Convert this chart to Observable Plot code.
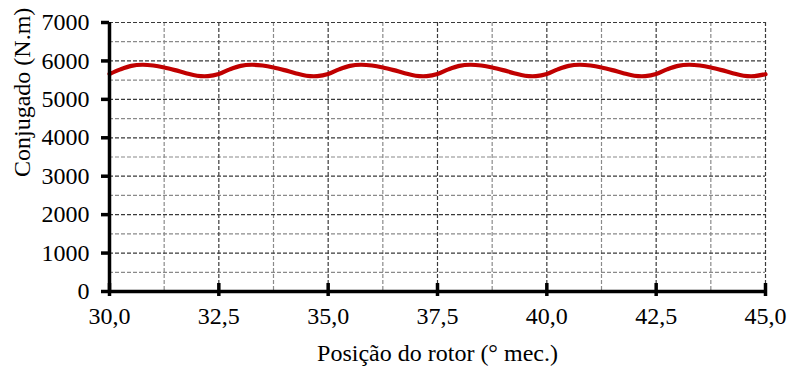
<!DOCTYPE html>
<html>
<head>
<meta charset="utf-8">
<script src="https://cdn.jsdelivr.net/npm/d3@7"></script>
<script src="https://cdn.jsdelivr.net/npm/@observablehq/plot@0.6"></script>
<style>
  html, body { margin: 0; padding: 0; background: #fff; font-family: "Liberation Serif", serif; }
  #chart svg { display: block; }
</style>
</head>
<body>
<div id="chart"></div>
<script>
// Rotor position (degrees mechanical), step 0.25
const positions = d3.range(0, 61).map(i => 30 + i * 0.25);
// Torque (N.m)
const torque = [
  5660, 5780, 5870, 5900, 5880, 5830, 5760, 5680, 5615, 5605,
  5660, 5780, 5870, 5900, 5880, 5830, 5760, 5680, 5615, 5605,
  5660, 5780, 5870, 5900, 5880, 5830, 5760, 5680, 5615, 5605,
  5660, 5780, 5870, 5900, 5880, 5830, 5760, 5680, 5615, 5605,
  5660, 5780, 5870, 5900, 5880, 5830, 5760, 5680, 5615, 5605,
  5660, 5780, 5870, 5900, 5880, 5830, 5760, 5680, 5615, 5605,
  5655
];
const xTicks = [30, 32.5, 35, 37.5, 40, 42.5, 45];
const xTickLabels = ["30,0", "32,5", "35,0", "37,5", "40,0", "42,5", "45,0"];
const xMinor = [31.25, 33.75, 36.25, 38.75, 41.25, 43.75];
const yTicks = [0, 1000, 2000, 3000, 4000, 5000, 6000, 7000];
const yTickLabels = ["0", "1000", "2000", "3000", "4000", "5000", "6000", "7000"];
const yMinor = [500, 1500, 2500, 3500, 4500, 5500, 6500];
const xLabel = "Posição do rotor (° mec.)";
const yLabel = "Conjugado (N.m)";

const data = positions.map((p, i) => ({x: p, y: torque[i]}));

const font = "Liberation Serif";
const fs = 24;

const chart = Plot.plot({
  width: 789,
  height: 369,
  marginLeft: 109,
  marginRight: 24,
  marginTop: 22,
  marginBottom: 78,
  style: {fontFamily: font, fontSize: fs + "px", color: "#000", background: "#fff"},
  x: {domain: [30, 45]},
  y: {domain: [0, 7000]},
  marks: [
    // minor grid
    Plot.ruleY(yMinor, {stroke: "#8a8a8a", strokeWidth: 1.2, strokeDasharray: "4,2"}),
    Plot.ruleX(xMinor, {stroke: "#8a8a8a", strokeWidth: 1.2, strokeDasharray: "4,2"}),
    // major grid
    Plot.ruleY(yTicks.filter(d => d > 0), {stroke: "#3a3a3a", strokeWidth: 1.2, strokeDasharray: "4,2"}),
    Plot.ruleX(xTicks.filter(d => d > 30), {stroke: "#3a3a3a", strokeWidth: 1.2, strokeDasharray: "4,2"}),
    // data line
    Plot.line(data, {x: "x", y: "y", stroke: "#c00000", strokeWidth: 4.2, curve: "catmull-rom"}),
    // axis lines
    Plot.ruleX([30], {stroke: "#000", strokeWidth: 3.5}),
    Plot.ruleY([0], {stroke: "#000", strokeWidth: 3.5}),
    // y axis ticks and labels
    Plot.axisY({ticks: yTicks, tickSize: 8, strokeWidth: 3.5, tickPadding: 12, fontSize: fs, fontFamily: font, label: null,
      tickFormat: d => yTickLabels[yTicks.indexOf(d)]}),
    // x axis crossing ticks
    Plot.axisX({ticks: xTicks, tickSize: 13, dy: -8, strokeWidth: 3.5, text: null, label: null}),
    // x axis labels
    Plot.axisX({ticks: xTicks, tickSize: 0, tickPadding: 15, fontSize: fs, fontFamily: font, label: null,
      tickFormat: d => xTickLabels[xTicks.indexOf(d)]}),
    // axis titles
    Plot.text([xLabel], {frameAnchor: "bottom", dy: 69, fontSize: fs, fontFamily: font, fill: "#000"}),
    Plot.text([yLabel], {frameAnchor: "left", dx: -87, dy: 20, rotate: -90, fontSize: fs, fontFamily: font, fill: "#000"})
  ]
});

d3.select(chart).selectAll("text").style("font-family", "'Liberation Serif', serif");
document.getElementById("chart").appendChild(chart);
</script>
</body>
</html>
